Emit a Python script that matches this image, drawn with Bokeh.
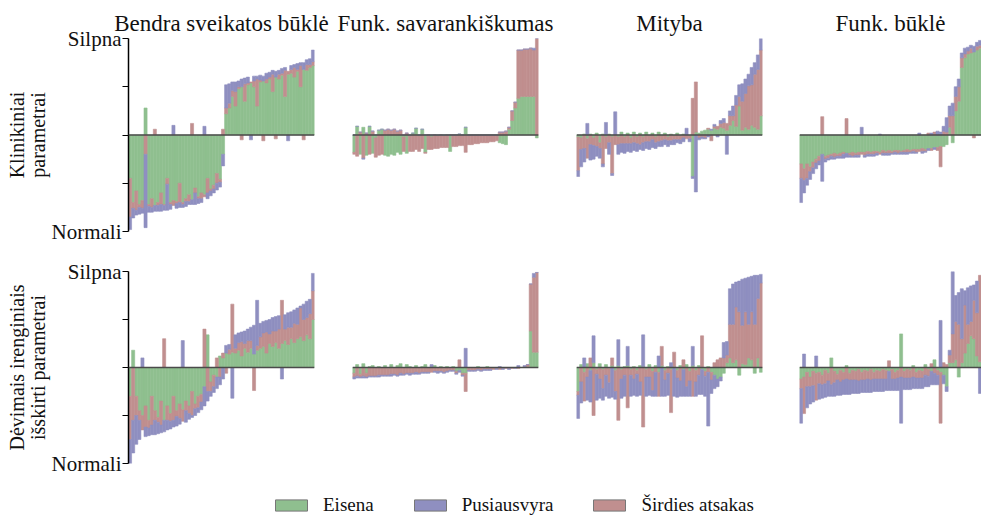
import numpy as np
from bokeh.plotting import figure
from bokeh.layouts import column, row
from bokeh.models import Span, Legend, LegendItem, FixedTicker
from bokeh.embed import file_html
from bokeh.resources import INLINE

FONT = "Liberation Serif"

titles = ["Bendra sveikatos būklė", "Funk. savarankiškumas", "Mityba", "Funk. būklė"]
row_labels = ["Klinikiniai\nparametrai", "Dėvimais irenginiais\nišskirti parametrai"]
y_ticks = [-1, -0.5, 0, 0.5, 1]
y_tick_labels = ["Normali", "", "", "", "Silpna"]

series_names = ["Eisena", "Pusiausvyra", "Širdies atsakas"]
series_colors = ["#8fbf8f", "#8f8fc0", "#c08f8f"]

# ---- clinical parameters: per-sample contributions, sorted by total ----
clin_bendra_eisena = [
    -0.45, -0.70, -0.58, -0.72, -0.68, 0.28, -0.72, -0.66, -0.73, -0.70,
    -0.60, -0.72, -0.45, -0.70, -0.68, -0.69, -0.50, -0.70, -0.66, -0.62,
    -0.67, -0.55, -0.64, -0.60, -0.62, -0.45, -0.56, -0.52, -0.40, -0.46,
    -0.20, 0.22, 0.28, 0.40, 0.30, 0.48, 0.50, 0.35, 0.52, 0.54,
    0.50, 0.30, 0.55, 0.56, 0.54, 0.58, 0.45, 0.60, 0.58, 0.62,
    0.40, 0.63, 0.64, 0.60, 0.66, 0.50, 0.68, 0.67, 0.70, 0.72]
clin_bendra_sirdis = [
    -0.40, -0.06, -0.20, -0.03, -0.08, -0.20, -0.02, -0.09, 0.06, -0.03,
    -0.12, -0.01, -0.06, -0.02, -0.05, -0.02, -0.20, -0.02, -0.03, -0.07,
    0.12, -0.05, -0.02, -0.06, -0.02, -0.15, -0.02, -0.04, -0.10, -0.03,
    0.06, 0.06, 0.05, 0.06, 0.15, 0.02, -0.05, 0.18, 0.02, 0.01,
    0.06, 0.28, 0.02, -0.06, 0.04, 0.02, 0.18, -0.04, 0.05, 0.02,
    0.27, 0.03, 0.04, 0.10, 0.02, 0.22, -0.05, 0.06, 0.03, 0.04]
clin_bendra_pusiausvyra = [
    -0.13, -0.10, -0.05, -0.07, -0.05, -0.76, -0.06, -0.05, -0.06, -0.06,
    -0.07, -0.05, -0.27, -0.05, 0.10, -0.05, -0.05, -0.03, -0.05, -0.03,
    -0.05, -0.12, -0.05, -0.04, 0.09, -0.06, -0.05, -0.04, -0.07, -0.05,
    -0.12, 0.24, 0.20, 0.09, 0.10, 0.06, 0.08, 0.06, 0.06, -0.05,
    0.05, 0.03, 0.05, 0.05, 0.06, 0.05, 0.04, 0.06, 0.04, 0.05,
    0.03, -0.06, 0.04, 0.03, 0.06, 0.03, 0.07, 0.05, 0.06, 0.12]

clin_savar_eisena = [
    -0.18, 0.09, -0.20, 0.08, -0.21, 0.09, -0.19, -0.03, 0.05, 0.06,
    -0.21, -0.22, -0.20, -0.21, -0.18, -0.20, -0.02, -0.19, -0.01, 0.02,
    0.07, -0.01, 0.06, -0.18, 0.00, -0.02, 0.00, -0.01, 0.00, -0.01,
    0.00, -0.17, 0.00, 0.00, 0.01, 0.00, 0.08, 0.00, 0.00, 0.00,
    0.00, 0.00, 0.00, 0.00, 0.00, 0.00, 0.00, -0.08, -0.09, -0.10,
    0.06, 0.15, 0.28, 0.38, 0.40, 0.40, 0.40, 0.40, 0.40, -0.03]
clin_savar_sirdis = [
    -0.02, -0.22, 0.03, -0.24, 0.02, -0.20, 0.04, -0.20, -0.21, -0.20,
    0.05, 0.06, 0.05, 0.06, 0.04, 0.05, -0.15, 0.02, -0.16, -0.17,
    -0.15, -0.16, -0.14, -0.01, -0.15, -0.13, -0.14, -0.13, -0.13, -0.12,
    -0.13, 0.00, -0.12, -0.12, -0.11, -0.11, -0.18, -0.10, -0.10, -0.09,
    -0.09, -0.08, -0.08, -0.08, -0.07, -0.07, -0.06, 0.03, 0.03, 0.04,
    0.02, 0.10, 0.06, 0.50, 0.48, 0.49, 0.49, 0.50, 0.48, 1.00]
clin_savar_pusiausvyra = [
    0.00, 0.00, 0.00, -0.01, 0.00, 0.00, 0.00, 0.00, 0.00, 0.00,
    0.00, 0.00, 0.00, 0.00, 0.00, 0.00, 0.00, 0.00, 0.00, 0.00,
    0.00, 0.00, 0.00, 0.00, 0.00, 0.00, 0.00, 0.00, 0.00, 0.00,
    0.00, 0.00, 0.00, 0.00, 0.00, 0.00, 0.00, 0.00, 0.00, 0.00,
    0.00, 0.00, 0.00, 0.00, 0.00, 0.00, 0.00, 0.00, 0.00, 0.00,
    0.00, 0.00, 0.00, 0.00, 0.00, 0.00, 0.00, 0.00, 0.02, 0.00]

clin_mityba_eisena = [
    -0.02, -0.03, 0.01, -0.04, 0.01, -0.03, 0.02, -0.08, 0.01, -0.02,
    0.01, -0.02, 0.00, -0.02, 0.03, -0.02, 0.02, -0.03, 0.03, -0.02,
    0.02, -0.02, 0.03, -0.01, 0.02, -0.02, 0.03, -0.01, 0.02, -0.02,
    0.01, -0.01, 0.02, -0.01, 0.01, 0.00, -0.01, -0.43, 0.03, 0.02,
    0.04, 0.05, 0.06, 0.05, 0.07, 0.06, 0.08, 0.07, 0.05, 0.10,
    0.15, 0.09, 0.30, 0.05, 0.08, 0.06, 0.10, 0.08, 0.06, 0.20]
clin_mityba_sirdis = [
    -0.35, -0.12, -0.14, -0.20, -0.10, -0.08, -0.12, -0.06, -0.30, -0.12,
    -0.08, -0.38, -0.10, -0.08, -0.09, -0.07, -0.09, -0.06, -0.08, -0.07,
    -0.10, -0.06, -0.07, -0.06, -0.05, -0.06, -0.07, -0.05, -0.05, -0.04,
    -0.06, -0.04, -0.05, -0.04, -0.03, -0.04, -0.03, 0.38, 0.52, -0.03,
    -0.02, -0.03, 0.01, -0.06, 0.02, 0.03, 0.04, 0.06, 0.07, 0.10,
    0.05, 0.22, 0.10, 0.30, 0.35, 0.45, 0.42, 0.55, 0.62, 0.68]
clin_mityba_pusiausvyra = [
    -0.06, -0.18, -0.14, 0.12, -0.16, -0.14, -0.10, -0.10, -0.03, 0.13,
    -0.12, -0.02, 0.24, -0.10, -0.09, -0.10, -0.08, -0.09, -0.08, -0.08,
    -0.05, -0.08, -0.07, -0.08, -0.08, -0.06, -0.05, -0.06, -0.05, -0.06,
    -0.04, -0.05, -0.03, -0.04, -0.04, 0.07, -0.03, -0.02, -0.59, -0.02,
    -0.02, -0.01, -0.02, 0.01, 0.02, -0.02, 0.03, 0.04, -0.20, 0.05,
    0.10, 0.10, 0.12, 0.18, 0.15, 0.12, 0.18, 0.12, 0.15, 0.12]

clin_bukle_eisena = [
    -0.30, -0.35, -0.30, -0.33, -0.28, -0.25, -0.22, -0.20, -0.22, -0.21,
    -0.20, -0.19, -0.20, -0.19, -0.18, -0.19, -0.19, -0.18, -0.19, -0.18,
    -0.18, -0.18, -0.17, -0.18, -0.17, -0.17, -0.18, -0.16, -0.17, -0.16,
    -0.17, -0.16, -0.16, -0.17, -0.16, -0.15, -0.16, -0.15, -0.15, -0.15,
    -0.14, -0.15, -0.14, -0.14, -0.13, -0.13, -0.12, -0.12, -0.10, 0.08,
    -0.08, 0.25, 0.35, 0.70, 0.80, 0.84, 0.85, 0.86, 0.88, 0.90]
clin_bukle_sirdis = [
    -0.15, -0.12, -0.15, -0.05, -0.06, -0.04, -0.05, 0.19, -0.03, -0.03,
    -0.02, -0.04, -0.02, -0.03, -0.02, 0.17, -0.02, -0.04, -0.02, -0.03,
    -0.02, -0.03, -0.03, -0.02, -0.03, -0.02, -0.02, -0.03, -0.02, -0.03,
    -0.02, -0.02, -0.03, -0.01, -0.02, -0.03, -0.02, -0.02, -0.03, -0.02,
    -0.03, -0.02, 0.02, -0.02, 0.03, -0.03, -0.21, 0.04, 0.03, 0.12,
    0.20, 0.15, 0.15, 0.10, 0.04, 0.03, 0.05, -0.03, 0.04, 0.03]
clin_bukle_pusiausvyra = [
    -0.25, -0.13, -0.07, -0.08, -0.06, -0.06, -0.04, -0.28, -0.03, -0.02,
    -0.03, -0.02, -0.02, -0.02, -0.04, -0.04, -0.02, -0.01, -0.02, -0.02,
    0.08, -0.02, -0.02, -0.02, -0.02, -0.02, 0.01, -0.02, -0.02, -0.02,
    -0.01, -0.02, -0.01, -0.02, -0.02, -0.02, -0.01, -0.02, -0.01, 0.02,
    -0.02, -0.01, -0.02, 0.02, -0.02, 0.04, 0.03, 0.05, 0.15, 0.10,
    0.13, 0.10, 0.08, 0.05, 0.06, 0.04, 0.03, 0.06, 0.04, 0.05]

# ---- parameters extracted from wearable devices ----
dev_bendra_eisena = [
    -0.30, 0.18, -0.30, -0.45, -0.50, -0.40, -0.55, -0.30, -0.45, -0.52,
    -0.35, -0.55, -0.40, -0.48, -0.30, -0.45, -0.38, -0.44, -0.35, -0.40,
    -0.25, -0.38, -0.30, -0.28, -0.20, 0.34, -0.15, -0.08, -0.10, 0.12,
    0.10, 0.15, 0.14, 0.16, 0.15, 0.18, 0.12, 0.20, 0.16, 0.20,
    0.14, 0.18, 0.20, 0.22, 0.15, 0.25, 0.22, 0.26, 0.20, 0.25,
    0.28, 0.24, 0.30, 0.26, 0.30, 0.32, 0.28, 0.34, 0.30, 0.50]
dev_bendra_sirdis = [
    -0.45, -0.55, -0.20, -0.10, -0.15, -0.22, -0.08, -0.30, -0.10, -0.05,
    -0.25, 0.30, -0.15, -0.08, -0.25, -0.06, -0.15, -0.12, -0.10, -0.08,
    -0.25, -0.05, -0.12, -0.08, 0.40, -0.25, -0.10, -0.12, 0.10, -0.10,
    0.05, -0.06, 0.05, 0.50, 0.05, 0.08, 0.15, 0.05, 0.12, 0.08,
    -0.24, 0.05, 0.12, 0.14, 0.22, 0.10, 0.16, 0.12, 0.20, 0.45,
    0.12, 0.18, 0.12, 0.20, 0.15, 0.30, 0.22, 0.18, 0.26, 0.30]
dev_bendra_pusiausvyra = [
    -0.25, -0.34, -0.30, -0.20, 0.10, -0.10, -0.08, -0.10, -0.15, -0.12,
    -0.08, -0.12, -0.10, -0.08, -0.07, -0.10, -0.06, 0.28, -0.12, -0.06,
    -0.02, -0.07, -0.05, -0.08, -0.20, -0.10, -0.05, -0.06, -0.12, -0.08,
    -0.12, 0.08, 0.05, -0.32, 0.14, 0.10, 0.10, 0.13, 0.12, 0.14,
    0.30, 0.47, 0.14, 0.12, 0.12, 0.15, 0.14, 0.15, 0.14, -0.12,
    0.15, 0.15, 0.16, 0.14, 0.17, 0.02, 0.16, 0.17, 0.15, 0.18]

dev_savar_eisena = [
    -0.06, 0.03, -0.07, 0.04, -0.06, 0.01, 0.02, 0.00, 0.01, 0.00,
    0.02, -0.01, 0.03, 0.00, 0.02, 0.04, 0.00, 0.03, 0.01, 0.00,
    0.02, 0.00, 0.01, 0.03, 0.00, 0.01, 0.02, 0.00, 0.01, -0.01,
    0.01, 0.00, 0.01, -0.04, -0.03, -0.06, -0.06, 0.00, 0.00, 0.00,
    0.01, 0.00, 0.00, 0.01, 0.00, 0.00, 0.00, 0.00, 0.00, 0.00,
    0.00, 0.00, 0.00, 0.00, 0.00, 0.01, 0.01, 0.38, 0.16, 0.16]
dev_savar_sirdis = [
    -0.04, -0.09, -0.03, -0.09, -0.04, -0.09, -0.09, -0.09, -0.08, -0.08,
    -0.08, -0.07, -0.07, -0.07, -0.08, -0.06, -0.07, -0.06, -0.06, -0.06,
    -0.05, -0.06, -0.05, -0.05, -0.05, -0.05, -0.04, -0.04, -0.04, -0.04,
    -0.04, -0.03, -0.03, -0.02, 0.08, -0.02, -0.19, -0.03, -0.03, -0.03,
    -0.02, -0.03, -0.02, -0.02, -0.02, -0.02, -0.01, -0.02, -0.01, -0.01,
    -0.01, -0.01, 0.00, -0.01, 0.00, 0.00, 0.02, 0.49, 0.78, 0.83]
dev_savar_pusiausvyra = [
    -0.02, -0.02, -0.01, -0.02, -0.01, -0.01, -0.01, -0.01, -0.02, -0.01,
    -0.01, -0.01, -0.02, -0.01, -0.01, -0.02, -0.01, -0.01, -0.02, -0.01,
    -0.02, -0.01, -0.01, -0.01, -0.01, 0.02, -0.01, -0.02, -0.01, -0.01,
    -0.01, -0.01, -0.01, -0.01, -0.02, -0.01, 0.20, -0.01, -0.01, -0.01,
    -0.01, -0.01, -0.01, -0.01, -0.01, 0.00, -0.01, 0.01, -0.01, 0.00,
    -0.01, 0.00, -0.01, 0.02, 0.00, 0.01, 0.00, 0.00, 0.04, 0.00]

dev_mityba_eisena = [
    -0.25, 0.03, -0.05, 0.04, -0.03, 0.05, -0.02, 0.04, -0.02, 0.03,
    -0.01, 0.02, -0.03, 0.02, -0.02, 0.01, 0.02, -0.02, 0.01, -0.03,
    0.02, 0.01, -0.02, 0.03, -0.04, 0.02, -0.05, 0.02, -0.03, 0.01,
    -0.02, 0.01, -0.03, 0.02, -0.02, 0.03, -0.04, 0.02, -0.03, 0.02,
    -0.02, -0.04, 0.01, -0.05, -0.08, -0.12, -0.10, -0.06, 0.05, 0.10,
    0.05, 0.08, -0.08, 0.04, 0.03, 0.10, 0.08, -0.06, 0.10, -0.05]
dev_mityba_sirdis = [
    -0.04, -0.15, -0.30, -0.10, 0.10, -0.50, -0.05, -0.12, -0.20, -0.08,
    -0.15, 0.08, -0.22, -0.55, -0.10, -0.08, -0.42, -0.06, -0.12, -0.04,
    -0.15, -0.62, -0.08, -0.10, -0.20, -0.05, -0.25, 0.20, -0.10, -0.06,
    -0.45, 0.15, -0.08, -0.14, 0.08, -0.20, -0.10, -0.30, -0.12, -0.08,
    0.33, -0.05, -0.05, -0.08, 0.05, 0.08, 0.10, 0.10, 0.08, 0.35,
    0.40, 0.55, 0.58, 0.40, 0.55, 0.35, 0.50, 0.45, 0.62, 0.88]
dev_mityba_pusiausvyra = [
    -0.24, -0.22, 0.10, -0.24, -0.33, 0.28, -0.27, -0.20, -0.12, -0.22,
    -0.16, -0.31, -0.08, 0.27, -0.20, -0.22, 0.20, -0.22, -0.17, -0.23,
    -0.14, 0.33, -0.20, -0.19, -0.06, -0.25, 0.12, -0.30, -0.17, -0.23,
    0.05, -0.30, -0.20, -0.16, -0.28, -0.10, -0.16, 0.20, -0.15, -0.20,
    -0.26, -0.21, -0.56, -0.14, -0.14, -0.08, -0.04, 0.16, 0.14, 0.37,
    0.42, 0.26, 0.32, 0.48, 0.35, 0.49, 0.37, 0.51, 0.24, 0.09]

dev_bukle_eisena = [
    -0.12, -0.10, -0.05, -0.10, -0.04, -0.06, -0.05, -0.08, -0.03, -0.06,
    0.10, -0.04, -0.07, -0.03, -0.05, 0.02, -0.06, -0.03, -0.04, -0.02,
    -0.05, -0.03, -0.04, -0.02, -0.05, -0.03, -0.04, -0.02, -0.03, -0.04,
    -0.02, -0.05, -0.03, 0.35, -0.04, -0.02, -0.03, 0.02, -0.05, -0.03,
    -0.04, 0.03, -0.02, -0.04, 0.08, -0.03, -0.05, -0.08, -0.20, 0.05,
    0.05, 0.08, -0.10, 0.05, 0.15, 0.25, 0.33, 0.30, 0.12, 0.06]
dev_bukle_sirdis = [
    -0.10, -0.38, -0.15, -0.10, -0.15, -0.28, -0.12, -0.10, -0.14, -0.08,
    -0.18, -0.12, -0.06, -0.12, -0.08, -0.12, -0.07, -0.10, -0.09, -0.12,
    -0.08, -0.10, -0.08, -0.11, -0.07, -0.09, -0.08, -0.10, -0.09, 0.07,
    -0.10, -0.07, -0.08, -0.10, -0.07, -0.09, -0.08, -0.10, -0.06, -0.08,
    -0.07, -0.08, -0.07, 0.04, -0.06, -0.05, -0.53, 0.05, 0.03, 0.08,
    0.30, 0.40, 0.45, 0.25, 0.50, 0.20, 0.15, 0.40, 0.45, 0.90]
dev_bukle_pusiausvyra = [
    -0.36, 0.14, -0.22, -0.18, -0.17, 0.12, -0.16, -0.14, -0.14, -0.16,
    -0.12, -0.14, -0.16, -0.14, -0.15, -0.16, -0.15, -0.14, -0.14, -0.13,
    -0.13, -0.13, -0.14, -0.13, -0.13, -0.13, -0.13, -0.13, -0.12, -0.20,
    -0.12, -0.12, -0.13, -0.48, -0.12, -0.12, -0.12, -0.12, -0.11, -0.11,
    -0.11, -0.12, -0.11, -0.14, -0.12, -0.10, 0.49, -0.09, -0.05, 0.05,
    0.65, 0.27, 0.33, 0.52, 0.15, 0.38, 0.37, 0.16, 0.33, -0.27]

panels = [
    [(clin_bendra_eisena, clin_bendra_pusiausvyra, clin_bendra_sirdis),
     (clin_savar_eisena, clin_savar_pusiausvyra, clin_savar_sirdis),
     (clin_mityba_eisena, clin_mityba_pusiausvyra, clin_mityba_sirdis),
     (clin_bukle_eisena, clin_bukle_pusiausvyra, clin_bukle_sirdis)],
    [(dev_bendra_eisena, dev_bendra_pusiausvyra, dev_bendra_sirdis),
     (dev_savar_eisena, dev_savar_pusiausvyra, dev_savar_sirdis),
     (dev_mityba_eisena, dev_mityba_pusiausvyra, dev_mityba_sirdis),
     (dev_bukle_eisena, dev_bukle_pusiausvyra, dev_bukle_sirdis)],
]

# panel geometry (pixels)
col_w = [333, 223, 224, 201]
col_left = [128, 19, 20, 19]
col_right = [19, 18, 18, 0]
row_h = [251, 232]
row_top = [38, 20]
row_bottom = [20, 20]

# stacking order outward from zero: gait, heart response, balance
STACK_ORDER = [0, 2, 1]


def stacked_extents(series):
    """Positive parts stack upward from 0, negative parts downward."""
    n = len(series[0])
    pos = np.zeros(n)
    neg = np.zeros(n)
    out = {}
    for k in STACK_ORDER:
        v = np.asarray(series[k], dtype=float)
        bottom = np.where(v >= 0, pos, neg + v)
        top = np.where(v >= 0, pos + v, neg)
        pos = pos + np.clip(v, 0, None)
        neg = neg + np.clip(v, None, 0)
        out[k] = (bottom, top)
    return out


def make_panel(r, c, series):
    n = len(series[0])
    p = figure(width=col_w[c], height=row_h[r], x_range=(0, n), y_range=(-1, 1),
               x_axis_location=None, y_axis_location="left" if c == 0 else None,
               title=titles[c] if r == 0 else None,
               output_backend="svg", toolbar_location=None,
               min_border_left=col_left[c], min_border_right=col_right[c],
               min_border_top=row_top[r], min_border_bottom=row_bottom[r])
    p.outline_line_color = None
    p.grid.visible = False
    p.background_fill_color = "white"
    p.border_fill_color = "white"

    if r == 0:
        p.title.text_font = FONT
        p.title.text_font_size = "23px"
        p.title.text_font_style = "normal"
        p.title.text_color = "#111111"
        p.title.align = "center"
        p.title.standoff = 5

    if c == 0:
        ax = p.yaxis[0]
        ax.ticker = FixedTicker(ticks=y_ticks)
        ax.major_label_overrides = {t: lab for t, lab in zip(y_ticks, y_tick_labels)}
        ax.major_label_text_font = FONT
        ax.major_label_text_font_size = "21px"
        ax.major_label_text_color = "#111111"
        ax.major_label_standoff = 1
        ax.major_tick_out = 6
        ax.major_tick_in = 0
        ax.major_tick_line_width = 1.2
        ax.minor_tick_line_color = None
        ax.axis_line_width = 1.5
        ax.axis_line_color = "black"
        ax.axis_label = row_labels[r]
        ax.axis_label_text_font = FONT
        ax.axis_label_text_font_size = "20px"
        ax.axis_label_text_font_style = "normal"
        ax.axis_label_text_color = "#111111"
        ax.axis_label_text_line_height = 0.95
        ax.axis_label_standoff = 0

    xs = np.arange(n) + 0.5
    ext = stacked_extents(series)
    for k in STACK_ORDER:
        bottom, top = ext[k]
        p.vbar(x=xs, width=1, bottom=bottom, top=top,
               fill_color=series_colors[k], line_color=series_colors[k], line_width=0.6)

    p.add_layout(Span(location=0, dimension="width", line_color="#4a4a4a", line_width=1.5))
    return p


grid_rows = []
for r in range(2):
    grid_rows.append(row([make_panel(r, c, panels[r][c]) for c in range(4)]))

# legend strip: swatch renderers sit outside the visible range
lg = figure(width=981, height=32, x_range=(0, 1), y_range=(0, 1),
            x_axis_location=None, y_axis_location=None, title=None,
            output_backend="svg", toolbar_location=None, min_border=0)
lg.outline_line_color = None
lg.grid.visible = False
items = []
for name, col in zip(series_names, series_colors):
    rr = lg.vbar(x=[-5], bottom=[-6], top=[-5], width=0.1,
                 fill_color=col, line_color="#777777", line_width=1)
    items.append(LegendItem(label=name, renderers=[rr]))
legend = Legend(items=items, orientation="horizontal", location=(271, -1),
                glyph_width=40, glyph_height=14, label_standoff=12, spacing=36,
                padding=0, margin=0, border_line_color=None, background_fill_alpha=0,
                label_text_font=FONT, label_text_font_size="19px", label_text_color="#111111")
lg.add_layout(legend)

layout = column(grid_rows[0], grid_rows[1], lg)

open("out.html", "w").write(file_html(layout, INLINE))
